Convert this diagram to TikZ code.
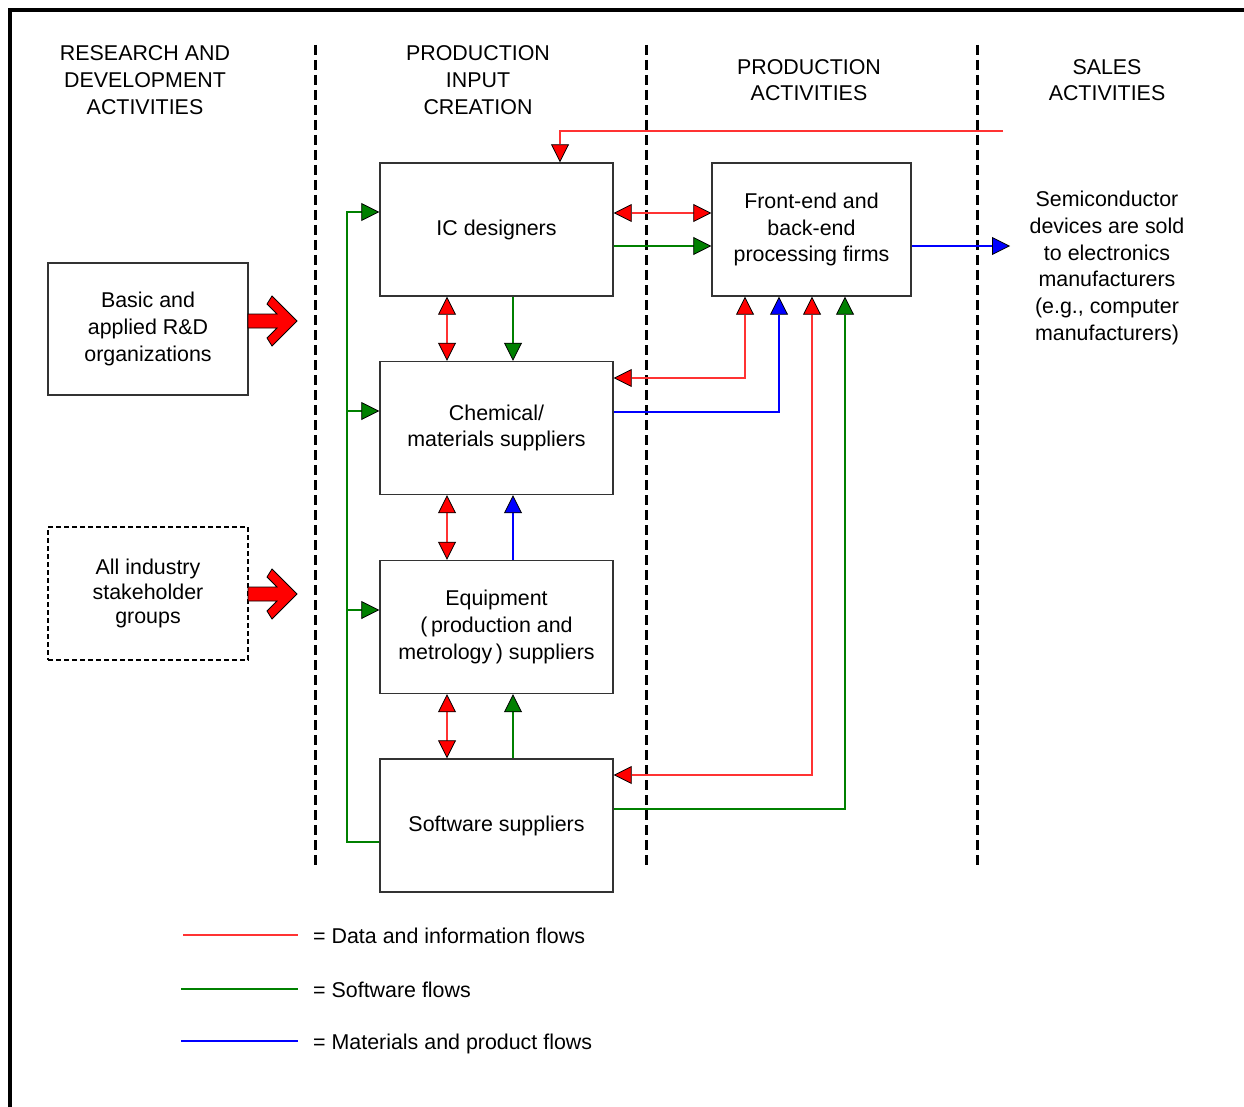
\documentclass[tikz,border=0pt]{standalone}
\usepackage{fontspec}
\setmainfont{Liberation Sans}
\usetikzlibrary{arrows.meta}

\begin{document}
\begin{tikzpicture}[x=1pt,y=-1pt]
\tikzstyle{every node}=[font=\fontsize{21.4}{26.7}\selectfont, align=center, inner sep=0pt]
\tikzstyle{box}=[draw=black!80, line width=1.4pt, minimum width=233pt, minimum height=133pt]
\tikzstyle{sep}=[line width=3pt, dash pattern=on 10pt off 5pt]
\tikzstyle{dat}=[draw=red!80, line width=1.1pt, >={Triangle[length=18pt,width=18pt,color=black,fill=red,line width=0.8pt]}]
\tikzstyle{sw}=[draw=green!50!black, line width=1.1pt, >={Triangle[length=18pt,width=18pt,color=black,fill=green!50!black,line width=0.8pt]}]
\tikzstyle{mat}=[draw=blue, line width=1.1pt, >={Triangle[length=18pt,width=18pt,color=black,fill=blue,line width=0.8pt]}]
\useasboundingbox (0,0) rectangle (1244,1107);
\draw[line width=4pt] (10,1120) -- (10,10) -- (1260,10);
% column headings
\draw (145,80) node (hrd) {RESEARCH AND\\DEVELOPMENT\\ACTIVITIES};
\draw (478,80) node (hpi) {PRODUCTION\\INPUT\\CREATION};
\draw (809,80) node (hpa) {PRODUCTION\\ACTIVITIES};
\draw (1107,80) node (hsa) {SALES\\ACTIVITIES};
\foreach \x in {315,646,977}
  \draw[sep] (\x,45) -- (\x,868);
% boxes
\draw (148,329) node (rnd) [box, minimum width=200pt, minimum height=132pt] {Basic and\\applied R\&D\\organizations};
\draw (148,593.5) node (grp) [box, draw=black, line width=2pt, dash pattern=on 5pt off 3pt, minimum width=200pt] {All industry\\[-2pt]stakeholder\\[-2pt]groups};
\draw (496.5,229.5) node (ic) [box] {IC designers};
\draw (496.5,428) node (chem) [box] {Chemical/\\materials suppliers};
\draw (496.5,627) node (equip) [box] {Equipment\\(\,production and\\metrology\,) suppliers};
\draw (496.5,825.5) node (soft) [box] {Software suppliers};
\draw (811.5,229.5) node (fe) [box, minimum width=199pt] {Front-end and\\back-end\\processing firms};
\draw (1107,268) node (dev) {Semiconductor\\devices are sold\\to electronics\\manufacturers\\(e.g., computer\\manufacturers)};
\foreach \y in {321,594}
  \draw[fill=red, draw=black, line width=0.8pt] (248,\y-7) -- (277,\y-7) -- (267,\y-17) -- (272,\y-25) -- (297,\y) -- (272,\y+25) -- (267,\y+17) -- (277,\y+7) -- (248,\y+7) -- cycle;
% flows between input boxes
\coordinate (xa) at (447,0);
\coordinate (xb) at (513,0);
\draw[dat,<->] (ic.south -| xa) -- (chem.north -| xa);
\draw[sw,->] (ic.south -| xb) -- (chem.north -| xb);
\draw[dat,<->] (chem.south -| xa) -- (equip.north -| xa);
\draw[mat,->] (equip.north -| xb) -- (chem.south -| xb);
\draw[dat,<->] (equip.south -| xa) -- (soft.north -| xa);
\draw[sw,->] (soft.north -| xb) -- (equip.south -| xb);
% software bus on the left
\coordinate (g1) at (347,212);
\coordinate (g2) at (347,411);
\coordinate (g3) at (347,610);
\coordinate (g4) at (347,842);
\draw[sw,->] (soft.west |- g4) -| (g1) -- (ic.west |- g1);
\draw[sw,->] (g2) -- (chem.west |- g2);
\draw[sw,->] (g3) -- (equip.west |- g3);
% flows to production
\coordinate (h1) at (660,213);
\coordinate (h2) at (660,246);
\draw[dat,<->] (ic.east |- h1) -- (fe.west |- h1);
\draw[sw,->] (ic.east |- h2) -- (fe.west |- h2);
\coordinate (f1) at (745,378);
\coordinate (f2) at (779,412);
\coordinate (f3) at (812,775);
\coordinate (f4) at (845,809);
\draw[dat,<->] (chem.east |- f1) -| (fe.south -| f1);
\draw[mat,->] (chem.east |- f2) -| (fe.south -| f2);
\draw[dat,<->] (soft.east |- f3) -| (fe.south -| f3);
\draw[sw,->] (soft.east |- f4) -| (fe.south -| f4);
\coordinate (sold) at (1010,246);
\draw[mat,->] (fe.east |- sold) -- (sold);
\coordinate (ret) at (1003,131);
\coordinate (xr) at (560,0);
\draw[dat,->] (ret) -| (ic.north -| xr);
% legend
\draw (313,943) node (k1) [anchor=base west] {= Data and information flows};
\draw (313,997) node (k2) [anchor=base west] {= Software flows};
\draw (313,1049) node (k3) [anchor=base west] {= Materials and product flows};
\coordinate (k1s) at (183,935);
\coordinate (k2s) at (181,989);
\coordinate (k3s) at (181,1041);
\draw[dat] (k1s) -- (k1s -| 298,0);
\draw[sw] (k2s) -- (k2s -| 298,0);
\draw[mat] (k3s) -- (k3s -| 298,0);
\end{tikzpicture}
\end{document}
